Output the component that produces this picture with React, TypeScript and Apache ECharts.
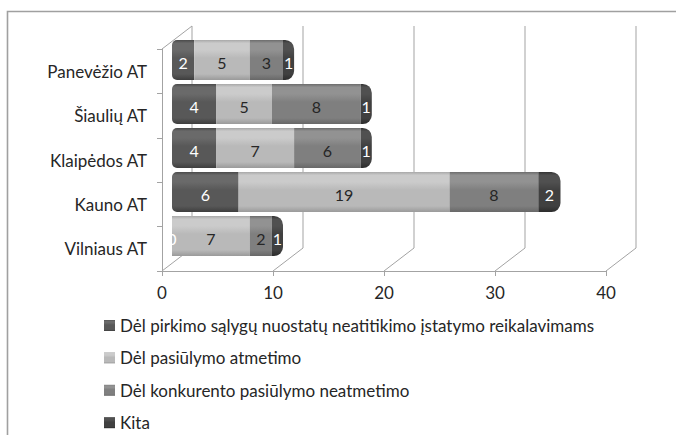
import React, { useEffect, useRef } from "react";
import * as echarts from "echarts";

// Regional units (top to bottom as drawn)
const categories = ["Panevėžio AT", "Šiaulių AT", "Klaipėdos AT", "Kauno AT", "Vilniaus AT"];

const seriesNames = [
  "Dėl pirkimo sąlygų nuostatų neatitikimo įstatymo reikalavimams",
  "Dėl pasiūlymo atmetimo",
  "Dėl konkurento pasiūlymo neatmetimo",
  "Kita",
];

const pirkimoSalygos = [2, 4, 4, 6, 0];
const pasiulymoAtmetimas = [5, 5, 7, 19, 7];
const konkurentoNeatmetimas = [3, 8, 6, 8, 2];
const kita = [1, 1, 1, 2, 1];

const xTicks = [0, 10, 20, 30, 40];

// Perspective offset of the back wall relative to the front plane
const DEPTH_X = 30;
const DEPTH_Y = -23;

const FONT = "Lato";
const FONT_SIZE = 17;
const TEXT = "#262626";
const WALL = "#a3a3a3";

function cylinder(edge: string, light: string, base: string, low: string) {
  return new echarts.graphic.LinearGradient(0, 0, 0, 1, [
    { offset: 0, color: edge },
    { offset: 0.08, color: light },
    { offset: 0.25, color: light },
    { offset: 0.45, color: base },
    { offset: 0.85, color: base },
    { offset: 1, color: low },
  ]);
}

const fills = [
  cylinder("#4a4a4a", "#6a6a6a", "#585858", "#3e3e3e"),
  cylinder("#a8a8a8", "#cbcbcb", "#b9b9b9", "#9a9a9a"),
  cylinder("#6c6c6c", "#929292", "#7f7f7f", "#686868"),
  cylinder("#333333", "#505050", "#404040", "#2c2c2c"),
];

const labelColors = ["#ffffff", TEXT, TEXT, "#ffffff"];
const values = [pirkimoSalygos, pasiulymoAtmetimas, konkurentoNeatmetimas, kita];

export default function App() {
  const ref = useRef<HTMLDivElement>(null);

  useEffect(() => {
    if (!ref.current) return;
    const chart = echarts.init(ref.current, undefined, { renderer: "svg" });

    const barSeries = values.map((data, i) => ({
      name: seriesNames[i],
      type: "bar",
      stack: "total",
      xAxisIndex: 1,
      yAxisIndex: 1,
      barWidth: "91%",
      z: 3,
      data,
      itemStyle: {
        color: fills[i],
        borderRadius: i === 0 ? [5, 0, 0, 5] : i === 3 ? [0, 9, 9, 0] : 0,
      },
      label: {
        show: true,
        position: "inside",
        offset: [0, 2],
        fontFamily: FONT,
        fontSize: 16,
        color: labelColors[i],
      },
    }));

    // one legend row per series, stacked vertically
    const legends = seriesNames.map((name, i) => ({
      orient: "horizontal",
      left: 104,
      top: 317 + i * 32.4,
      padding: 0,
      itemGap: 0,
      icon: "rect",
      itemWidth: 11,
      itemHeight: 11,
      data: [name],
      textStyle: { fontFamily: FONT, fontSize: FONT_SIZE, color: TEXT },
      selectedMode: false,
    }));

    chart.setOption({
      animation: false,
      backgroundColor: "#ffffff",
      graphic: [
        {
          type: "rect",
          shape: { x: 7.5, y: 11.5, width: 720, height: 480 },
          style: { fill: "none", stroke: "#a0a0a0", lineWidth: 1.6 },
          silent: true,
        },
      ],
      legend: legends,
      grid: [
        { left: 162, top: 49, width: 444, height: 222 },
        { left: 172, top: 38, width: 444, height: 220 },
      ],
      xAxis: [
        {
          gridIndex: 0,
          type: "value",
          min: 0,
          max: 40,
          interval: 10,
          axisLine: { show: true, lineStyle: { color: WALL } },
          axisTick: { show: true, length: 5, lineStyle: { color: WALL } },
          axisLabel: { margin: 13, fontFamily: FONT, fontSize: FONT_SIZE, color: TEXT },
          splitLine: { show: false },
        },
        {
          gridIndex: 1,
          type: "value",
          min: 0,
          max: 40,
          interval: 10,
          show: false,
        },
      ],
      yAxis: [
        {
          gridIndex: 0,
          type: "category",
          inverse: true,
          data: categories,
          axisLine: { show: true, lineStyle: { color: WALL } },
          axisTick: { show: true, length: 5, lineStyle: { color: WALL } },
          axisLabel: { margin: 15, fontFamily: FONT, fontSize: FONT_SIZE, color: TEXT },
          splitLine: { show: false },
        },
        {
          gridIndex: 1,
          type: "category",
          inverse: true,
          data: categories,
          show: false,
        },
      ],
      series: [
        {
          // floor diagonals, back wall verticals and the left wall's top edge
          type: "custom",
          xAxisIndex: 0,
          yAxisIndex: 0,
          z: 1,
          clip: false,
          silent: true,
          data: xTicks.map((v) => [v, 0]),
          renderItem: (params: any, api: any) => {
            const cs = params.coordSys;
            const x = api.coord([api.value(0), 0])[0];
            const top = cs.y;
            const bottom = cs.y + cs.height;
            const style = { stroke: WALL, lineWidth: 1, fill: "none" };
            const children: any[] = [
              {
                type: "line",
                shape: { x1: x, y1: bottom, x2: x + DEPTH_X, y2: bottom + DEPTH_Y },
                style,
              },
              {
                type: "line",
                shape: { x1: x + DEPTH_X, y1: bottom + DEPTH_Y, x2: x + DEPTH_X, y2: top + DEPTH_Y },
                style,
              },
            ];
            if (params.dataIndex === 0) {
              children.push({
                type: "line",
                shape: { x1: x, y1: top, x2: x + DEPTH_X, y2: top + DEPTH_Y },
                style,
              });
            }
            return { type: "group", children };
          },
        },
        ...barSeries,
      ],
    });

    return () => chart.dispose();
  }, []);

  return (
    <div
      ref={ref}
      style={{ position: "absolute", left: 0, top: 0, width: 676, height: 435 }}
    />
  );
}
